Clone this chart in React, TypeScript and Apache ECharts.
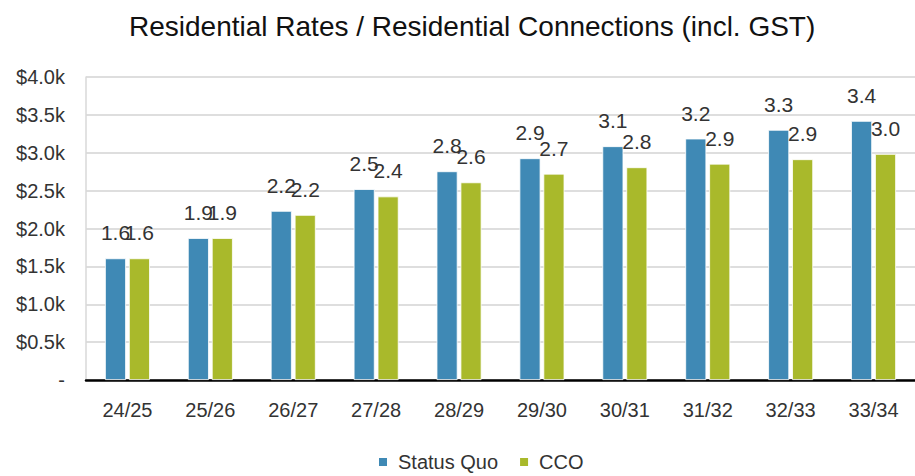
import React, { useEffect, useRef } from "react";
import * as echarts from "echarts";

const categories = ["24/25", "25/26", "26/27", "27/28", "28/29", "29/30", "30/31", "31/32", "32/33", "33/34"];
const statusQuo = [1606, 1874, 2232, 2520, 2755, 2927, 3086, 3187, 3302, 3420];
const cco = [1606, 1874, 2179, 2423, 2609, 2723, 2808, 2855, 2914, 2984];
const seriesNames = ["Status Quo", "CCO"];
const titleText = "Residential Rates / Residential Connections (incl. GST)";

const FONT = "'Liberation Sans', Arial, sans-serif";

export default function App() {
  const ref = useRef<HTMLDivElement>(null);
  useEffect(() => {
    if (!ref.current) return;
    const chart = echarts.init(ref.current, undefined, { renderer: "svg" });
    const label = {
      show: true,
      position: "top" as const,
      distance: 15,
      fontSize: 21,
      fontFamily: FONT,
      color: "#333",
      formatter: (p: any) => (p.value / 1000).toFixed(1),
    };
    chart.setOption({
      animation: false,
      backgroundColor: "#ffffff",
      title: {
        text: titleText,
        left: 124,
        top: 7,
        textStyle: { fontFamily: FONT, fontSize: 28, fontWeight: "normal", color: "#111" },
      },
      legend: {
        left: 372,
        top: 447,
        itemWidth: 10,
        itemHeight: 10,
        itemGap: 20,
        icon: "rect",
        textStyle: { fontFamily: FONT, fontSize: 20, color: "#333", padding: [0, 0, 0, 5] },
        data: seriesNames,
      },
      grid: { left: 86, top: 77, bottom: 96, right: -11, containLabel: false },
      xAxis: {
        type: "category",
        data: categories,
        axisLine: { lineStyle: { color: "#000", width: 2.5 } },
        axisTick: { show: false },
        axisLabel: { fontFamily: FONT, fontSize: 20, color: "#333", margin: 20 },
      },
      yAxis: {
        type: "value",
        min: 0,
        max: 4000,
        interval: 500,
        axisLine: { show: true, lineStyle: { color: "#d9d9d9", width: 1.5 } },
        axisTick: { show: false },
        splitLine: { lineStyle: { color: "#dedede", width: 2 } },
        axisLabel: {
          fontFamily: FONT,
          fontSize: 20,
          color: "#333",
          margin: 21,
          formatter: (v: number) => (v === 0 ? "-" : "$" + (v / 1000).toFixed(1) + "k"),
        },
      },
      series: [
        {
          name: seriesNames[0],
          type: "bar",
          data: statusQuo,
          barWidth: 21,
          barGap: "14%",
          itemStyle: { color: "#3F89B5", borderColor: "#ffffff", borderWidth: 0.8 },
          label,
        },
        {
          name: seriesNames[1],
          type: "bar",
          data: cco,
          barWidth: 21,
          itemStyle: { color: "#A9B92B", borderColor: "#ffffff", borderWidth: 0.8 },
          label,
        },
      ],
    });
    return () => chart.dispose();
  }, []);
  return (
    <div
      ref={ref}
      style={{ position: "absolute", left: 0, top: 0, width: 915, height: 476, overflow: "hidden" }}
    />
  );
}
